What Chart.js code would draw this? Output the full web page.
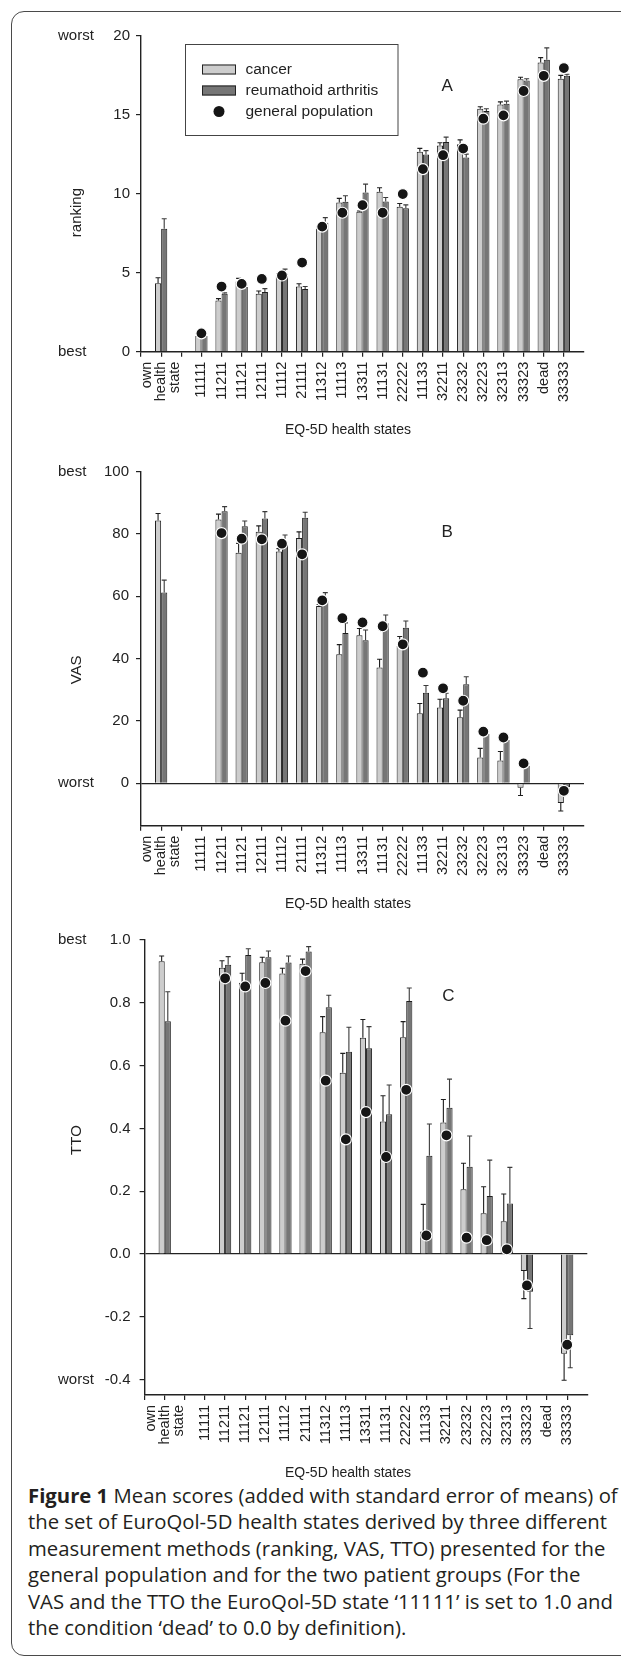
<!DOCTYPE html>
<html>
<head>
<meta charset="utf-8">
<script src="https://cdn.jsdelivr.net/npm/chart.js@4.4.0/dist/chart.umd.min.js"></script>
<style>
html,body{margin:0;padding:0;background:#fff;}
body{width:621px;height:1657px;position:relative;overflow:hidden;}
.frame{position:absolute;left:11px;top:11px;width:680px;height:1643px;border:1.6px solid #4a4a4a;border-radius:13px;}
canvas{position:absolute;left:0;}
#cA{top:0;} #cB{top:450px;} #cC{top:910px;}
.caption{position:absolute;left:28px;top:1482px;font-family:'Open Sans',sans-serif;font-size:18px;line-height:26.4px;color:#231f20;}
.caption div{white-space:nowrap;}
.caption span{display:inline-block;}
</style>
</head>
<body>
<div class="frame"></div>
<canvas id="cA" width="621" height="450"></canvas>
<canvas id="cB" width="621" height="460"></canvas>
<canvas id="cC" width="621" height="570"></canvas>
<div class="caption" id="caption">
  <div><span id="cap1"><b>Figure 1</b> Mean scores (added with standard error of means) of</span></div>
  <div><span>the set of EuroQol-5D health states derived by three different</span></div>
  <div><span>measurement methods (ranking, VAS, TTO) presented for the</span></div>
  <div><span>general population and for the two patient groups (For the</span></div>
  <div><span>VAS and the TTO the EuroQol-5D state ‘11111’ is set to 1.0 and</span></div>
  <div><span>the condition ‘dead’ to 0.0 by definition).</span></div>
</div>
<script>
// EQ-5D states on the x axis (same for all three panels)
const categories = ['own health state', '', '11111', '11211', '11121', '12111', '11112', '21111', '11312', '11113',
  '13311', '11131', '22222', '11133', '32211', '23232', '32223', '32313', '33323', 'dead', '33333'];

// A: ranking
const rankCancer   = [4.33, null, 1.0, 3.24, 4.44, 3.66, 4.84, 4.12, 7.80, 9.44, 8.85, 10.11, 9.17, 12.64, 13.04, 13.12, 15.37, 15.63, 17.24, 18.30, 17.26];
const rankCancerSE = [0.35, null, 0, 0.12, 0.20, 0.18, 0.10, 0.18, 0.10, 0.26, 0.05, 0.26, 0.20, 0.22, 0.18, 0.28, 0.12, 0.17, 0.12, 0.30, 0.22];
const rankRA       = [7.78, null, 1.0, 3.66, 4.10, 3.77, 4.92, 3.96, 8.16, 9.48, 10.07, 9.50, 9.07, 12.47, 13.27, 12.28, 15.22, 15.68, 17.16, 18.47, 17.45];
const rankRASE     = [0.63, null, 0, 0.06, 0.10, 0.22, 0.30, 0.16, 0.32, 0.38, 0.53, 0.25, 0.22, 0.25, 0.30, 0.22, 0.15, 0.17, 0.10, 0.75, 0.10];
const rankPop      = [null, null, 1.16, 4.12, 4.29, 4.60, 4.82, 5.64, 7.91, 8.79, 9.27, 8.79, 9.97, 11.55, 12.43, 12.85, 14.74, 14.95, 16.49, 17.45, 17.94];
const rankTicks    = [0, 5, 10, 15, 20];

// B: VAS
const vasCancer   = [84.3, null, null, 84.7, 74.0, 80.7, 74.4, 78.7, 56.9, 41.4, 47.5, 37.2, 44.1, 22.5, 24.3, 21.2, 8.3, 7.3, -1.4, null, -6.3];
const vasCancerSE = [2.3, null, null, 1.7, 3.0, 1.9, 0.9, 2.0, 0.5, 3.1, 2.2, 2.6, 3.0, 3.1, 2.7, 2.3, 2.9, 2.9, 2.5, null, 2.6];
const vasRA       = [61.2, null, null, 87.3, 82.5, 85.0, 76.7, 85.2, 58.5, 48.2, 45.9, 51.4, 49.9, 29.1, 27.3, 31.8, 15.8, 13.9, 5.6, null, -1.3];
const vasRASE     = [4.0, null, null, 1.5, 1.7, 2.2, 3.0, 1.8, 2.7, 3.3, 3.3, 2.6, 2.2, 2.3, 1.6, 2.4, 1.0, 1.0, 0.8, null, 0.5];
const vasPop      = [null, null, null, 80.3, 78.5, 78.3, 76.9, 73.5, 58.7, 53.0, 51.6, 50.4, 44.6, 35.5, 30.5, 26.5, 16.6, 14.7, 6.4, null, -2.4];
const vasTicks    = [0, 20, 40, 60, 80, 100];

// C: TTO
const ttoCancer   = [0.932, null, null, 0.912, 0.864, 0.929, 0.893, 0.924, 0.706, 0.577, 0.689, 0.422, 0.690, 0.072, 0.419, 0.206, 0.130, 0.104, -0.054, null, -0.318];
const ttoCancerSE = [0.017, null, null, 0.022, 0.030, 0.016, 0.017, 0.015, 0.050, 0.062, 0.058, 0.082, 0.050, 0.086, 0.073, 0.083, 0.084, 0.087, 0.088, null, 0.084];
const ttoRA       = [0.741, null, null, 0.921, 0.952, 0.945, 0.928, 0.963, 0.786, 0.644, 0.655, 0.445, 0.806, 0.313, 0.466, 0.278, 0.185, 0.161, -0.120, null, -0.259];
const ttoRASE     = [0.094, null, null, 0.026, 0.020, 0.020, 0.021, 0.016, 0.038, 0.078, 0.069, 0.093, 0.041, 0.101, 0.091, 0.098, 0.114, 0.115, 0.117, null, 0.103];
const ttoPop      = [null, null, null, 0.878, 0.852, 0.863, 0.743, 0.901, 0.552, 0.365, 0.452, 0.309, 0.523, 0.059, 0.378, 0.052, 0.044, 0.015, -0.100, null, -0.289];
const ttoTicks    = [-0.4, -0.2, 0, 0.2, 0.4, 0.6, 0.8, 1.0];

const FONT = '"Liberation Sans", Arial, sans-serif';
const INK = '#222';

// error bars, drawn right after each bar dataset so the dots stay on top
const errorBars = {
  id: 'errorBars',
  afterDatasetDraw(chart, args) {
    const ds = chart.data.datasets[args.index];
    if (!ds.errors) return;
    const y = chart.scales.y, ctx = chart.ctx;
    ctx.save();
    ctx.strokeStyle = ds.errColor; ctx.lineWidth = 1.1;
    args.meta.data.forEach((bar, i) => {
      const v = ds.data[i], e = ds.errors[i];
      if (v == null || !e) return;
      const y0 = y.getPixelForValue(v), y1 = y.getPixelForValue(v >= 0 ? v + e : v - e);
      ctx.beginPath();
      ctx.moveTo(bar.x, y0); ctx.lineTo(bar.x, y1);
      ctx.moveTo(bar.x - 2.5, y1); ctx.lineTo(bar.x + 2.5, y1);
      ctx.stroke();
    });
    ctx.restore();
  }
};

// texts around each panel: worst/best, axis titles, state labels, letter, legend
const panelText = {
  id: 'panel',
  afterDraw(chart, args, o) {
    const {ctx, chartArea: a, scales: {x, y}} = chart;
    ctx.save();
    ctx.fillStyle = INK;
    ctx.textBaseline = 'middle';

    ctx.font = '15px ' + FONT;
    ctx.textAlign = 'left';
    o.sideWords.forEach(([w, v]) => ctx.fillText(w, 58, y.getPixelForValue(v)));

    ctx.save();
    ctx.translate(77, y.getPixelForValue(o.yTitleAt));
    ctx.rotate(-Math.PI / 2);
    ctx.textAlign = 'center';
    ctx.fillText(o.yTitle, 0, 0);
    ctx.restore();

    ctx.font = '14.5px ' + FONT;
    categories.forEach((c, i) => {
      if (!c) return;
      const lines = c.split(' ');
      ctx.save();
      ctx.translate(x.getPixelForValue(i + 1), a.bottom + 10);
      ctx.rotate(-Math.PI / 2);
      ctx.textAlign = 'right';
      lines.forEach((t, k) => ctx.fillText(t, 0, (k - (lines.length - 1) / 2) * 14));
      ctx.restore();
    });

    ctx.font = '14px ' + FONT;
    ctx.textAlign = 'center';
    ctx.fillText('EQ-5D health states', 348, a.bottom + 78);

    ctx.font = '17px ' + FONT;
    ctx.fillText(o.letter, x.getPixelForValue(o.letterAt[0]), y.getPixelForValue(o.letterAt[1]));

    if (o.legend) {
      ctx.strokeStyle = '#444'; ctx.lineWidth = 1;
      ctx.strokeRect(185.5, 44.5, 212.5, 91);
      ctx.font = '15.5px ' + FONT;
      ctx.textAlign = 'left';
      const sets = chart.data.datasets;
      [[sets[1], 69.5], [sets[2], 90.5]].forEach(([ds, ry]) => {
        ctx.fillStyle = ds.backgroundColor;
        ctx.fillRect(202, ry - 5, 34, 10);
        ctx.strokeStyle = '#222';
        ctx.strokeRect(202.5, ry - 4.5, 33, 9);
        ctx.fillStyle = INK;
        ctx.fillText(ds.label, 245.5, ry);
      });
      ctx.beginPath();
      ctx.arc(219, 111.5, 5.5, 0, Math.PI * 2);
      ctx.fillStyle = '#151515'; ctx.fill();
      ctx.fillStyle = INK;
      ctx.fillText(sets[0].label, 245.5, 111.5);
    }
    ctx.restore();
  }
};

function makePanel(id, d, p) {
  const pad = arr => [null, ...arr, null];
  const labels = ['', ...categories, ''];
  new Chart(document.getElementById(id), {
    type: 'bar',
    data: {
      labels,
      datasets: [
        {label: 'general population', type: 'line', data: pad(d.pop), showLine: false, order: 0,
          pointRadius: 5.5, pointBackgroundColor: '#151515', pointBorderColor: '#fff', pointBorderWidth: 1.2},
        {label: 'cancer', data: pad(d.cancer), errors: pad(d.cancerSE), order: 1,
          backgroundColor: '#cdcdcd', borderColor: '#1e1e1e', borderWidth: 1, errColor: '#1e1e1e'},
        {label: 'reumathoid arthritis', data: pad(d.ra), errors: pad(d.raSE), order: 2,
          backgroundColor: '#767676', borderColor: '#1e1e1e', borderWidth: 1, errColor: '#3a3a3a'}
      ]
    },
    options: {
      responsive: false, animation: false,
      layout: {padding: {left: 0, right: 621 - p.right, top: p.top, bottom: 0}},
      datasets: {bar: {categoryPercentage: 0.61, barPercentage: 1}},
      plugins: {legend: {display: false}, tooltip: {enabled: false}, panel: p},
      scales: {
        x: {
          type: 'category', offset: false,
          grid: {offset: false, drawOnChartArea: false, tickLength: 5, lineWidth: 1.2,
            color: c => c.index === labels.length - 1 ? 'rgba(0,0,0,0)' : INK},
          border: {display: true, color: INK, width: 1.4},
          ticks: {display: false, autoSkip: false},
          afterFit: s => { s.height = p.height - p.bottom; }
        },
        y: {
          min: d.min, max: d.max,
          afterBuildTicks: s => { s.ticks = d.ticks.map(v => ({value: v})); },
          afterFit: s => { s.width = p.left; },
          grid: {tickLength: 5, lineWidth: 1.2, tickColor: INK,
            color: c => (p.zeroLine && c.tick && Math.abs(c.tick.value) < 1e-9) ? INK : 'rgba(0,0,0,0)'},
          border: {display: true, color: INK, width: 1.4},
          ticks: {padding: p.tickPad, color: INK, font: {family: FONT, size: 15}, callback: v => d.fmt(v)}
        }
      }
    },
    plugins: [errorBars, panelText]
  });
}

makePanel('cA',
  {cancer: rankCancer, cancerSE: rankCancerSE, ra: rankRA, raSE: rankRASE, pop: rankPop,
   min: 0, max: 20, ticks: rankTicks, fmt: v => String(v)},
  {height: 450, top: 35.5, bottom: 351.7, left: 141, right: 584, tickPad: 6, zeroLine: false,
   sideWords: [['worst', 20], ['best', 0]], yTitle: 'ranking', yTitleAt: 8.8,
   letter: 'A', letterAt: [15.2, 16.8], legend: true});

makePanel('cB',
  {cancer: vasCancer, cancerSE: vasCancerSE, ra: vasRA, raSE: vasRASE, pop: vasPop,
   min: -13.6, max: 100, ticks: vasTicks, fmt: v => String(Math.round(v))},
  {height: 460, top: 21.7, bottom: 375.7, left: 141, right: 584, tickPad: 7, zeroLine: true,
   sideWords: [['best', 100], ['worst', 0]], yTitle: 'VAS', yTitleAt: 36.4,
   letter: 'B', letterAt: [15.2, 80.4], legend: false});

makePanel('cC',
  {cancer: ttoCancer, cancerSE: ttoCancerSE, ra: ttoRA, raSE: ttoRASE, pop: ttoPop,
   min: -0.449, max: 1.0, ticks: ttoTicks, fmt: v => v.toFixed(1)},
  {height: 570, top: 30, bottom: 485, left: 144.6, right: 587.3, tickPad: 9, zeroLine: true,
   sideWords: [['best', 1.0], ['worst', -0.4]], yTitle: 'TTO', yTitleAt: 0.363,
   letter: 'C', letterAt: [15.1, 0.82], legend: false});

// fit the caption to the width of the first line in the figure
document.fonts.ready.then(() => {
  const cap = document.getElementById('caption');
  const w = document.getElementById('cap1').getBoundingClientRect().width;
  cap.style.fontSize = (18 * 590 / w).toFixed(2) + 'px';
});
</script>
</body>
</html>
